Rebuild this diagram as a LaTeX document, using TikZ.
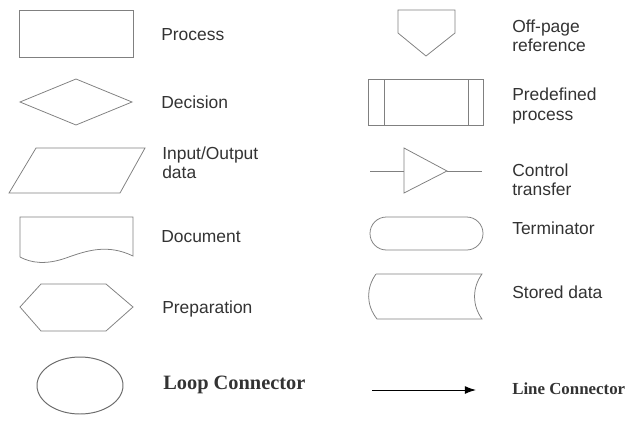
\documentclass[tikz,border=0pt]{standalone}
\usepackage{fontspec}
\setmainfont{Liberation Serif}
\setsansfont{Liberation Sans}
\usepackage{tikz}
\usetikzlibrary{positioning, arrows.meta}

\tikzset{
  symbol/.style={draw=gray, line width=0.55pt},
  label/.style={anchor=west, align=left, inner sep=0pt, text=black!80,
    font=\sffamily\fontsize{12.4}{13.6}\selectfont},
  serif label/.style={anchor=west, inner sep=0pt, text=black!80,
    font=\rmfamily\bfseries\fontsize{14.5}{16}\selectfont}
}

\begin{document}
\begin{tikzpicture}[x=0.25mm, y=-0.25mm]
        \useasboundingbox (0,0) rectangle (635,422);
        % left column
        \draw[symbol] (19,10) rectangle (133,57);
        \node[label] (process) at (161,35) {Process};
        \draw[symbol] (20,102) -- (76,79) -- (132,102) -- (76,125) -- cycle;
        \node[label] (decision) at (161,102) {Decision};
        \draw[symbol] (36,148) -- (145,148) -- (120,193) -- (9,193) -- cycle;
        \node[label] (io) at (162,163) {Input/Output\\data};
        \draw[symbol] (20,257) -- (20,217) -- (133,217) -- (133,256)
            .. controls (108,244) and (88,250) .. (66,258)
            .. controls (46,265) and (31,263) .. (20,257);
        \node[label] (document) at (161,237) {Document};
        \draw[symbol] (20,307) -- (41,284) -- (106,284) -- (133,307) -- (106,331) -- (41,331) -- cycle;
        \node[label] (preparation) at (162,309) {Preparation};
        \draw[symbol, draw=gray!85!black, line width=0.7pt] (80,385.5) ellipse [x radius=43, y radius=28.5];
        \node[serif label] (loop) at (163,385) {Loop Connector};
        % right column
        \draw[symbol] (398,10) -- (455,10) -- (455,33) -- (426,56) -- (398,33) -- cycle;
        \node[label] (offpage) at (512,36) {Off-page\\reference};
        \draw[symbol] (368,79) rectangle (483,125);
        \draw[symbol] (384,79) -- (384,125);
        \draw[symbol] (468,79) -- (468,125);
        \node[label] (predefined) at (512,106) {Predefined\\process};
        \coordinate (c1) at (370,171);
        \coordinate (c2) at (404,171);
        \coordinate (c3) at (447,171);
        \coordinate (c4) at (482,171);
        \draw[symbol] (c1) -- (c2);
        \draw[symbol] (404,148) -- (c3) -- (404,193) -- cycle;
        \draw[symbol] (c3) -- (c4);
        \node[label] (control) at (512,180) {Control\\transfer};
        \draw[symbol, rounded corners=4.1mm] (370,217) rectangle (483,250);
        \node[label] (terminator) at (512,228) {Terminator};
        \draw[symbol] (376,274) -- (482,274)
            .. controls (472,288) and (472,305) .. (482,319)
            -- (377,319)
            .. controls (366,305) and (366,288) .. (376,274);
        \node[label] (stored) at (512,292) {Stored data};
        \coordinate (a1) at (372,390);
        \coordinate (a2) at (476,390);
        \draw[line width=0.7pt, -{Latex[length=2.8mm, width=2mm]}] (a1) -- (a2);
        \node[serif label, font=\rmfamily\bfseries\fontsize{12}{14}\selectfont] (line) at (512,389) {Line Connector};
\end{tikzpicture}
\end{document}
